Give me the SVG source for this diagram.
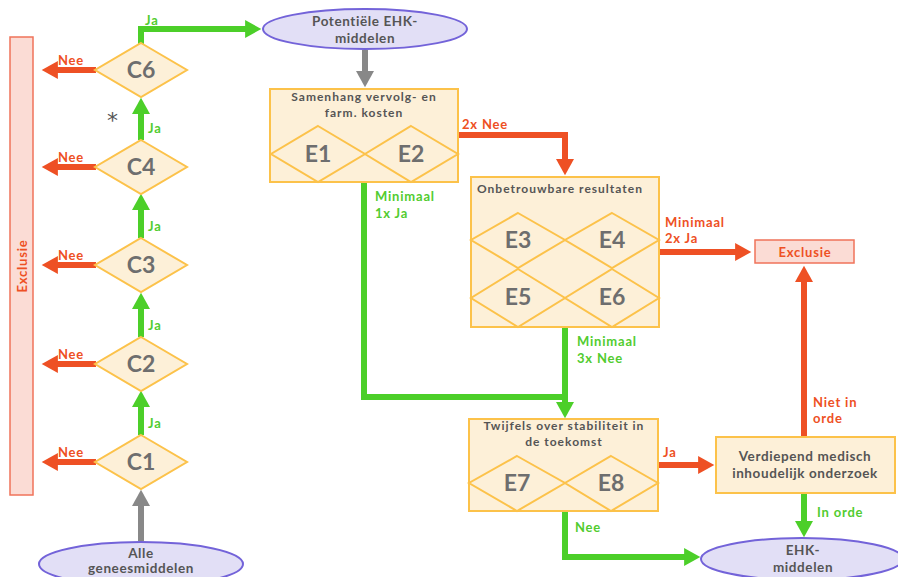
<svg xmlns="http://www.w3.org/2000/svg" width="898" height="577" viewBox="0 0 898 577">
<defs>
<style>
.dia{fill:#fdf0d8;stroke:#fcc24a;stroke-width:2}
.box{fill:#fdf0d8;stroke:#fcc24a;stroke-width:2}
.ell{fill:#e2dff6;stroke:#7363d9;stroke-width:2}
.exc{fill:#fbdcd5;stroke:#f0735a;stroke-width:1.5}
.ct{font-family:"Lato","Liberation Sans",sans-serif;font-weight:bold;font-size:23px;fill:#6e6e6e;text-anchor:middle}
.t{font-family:"Lato","Liberation Sans",sans-serif;font-weight:bold;font-size:12px;fill:#555;letter-spacing:1px}
.tm{text-anchor:middle}
.big{font-size:13.5px;letter-spacing:0.6px}
.lr{font-family:"Lato","Liberation Sans",sans-serif;font-weight:bold;font-size:13px;fill:#ee5024;letter-spacing:0.8px}
.lg{font-family:"Lato","Liberation Sans",sans-serif;font-weight:bold;font-size:13px;fill:#52cc30;letter-spacing:0.8px}
.r{fill:none;stroke:#ee5024;stroke-width:6}
.g{fill:none;stroke:#4ccf29;stroke-width:6}
.k{fill:none;stroke:#888;stroke-width:6}
</style>
<marker id="ar" viewBox="0 0 10 10" refX="0.5" refY="5" markerWidth="3" markerHeight="3" orient="auto" markerUnits="strokeWidth"><path d="M0,0L9,5L0,10z" fill="#ee5024"/></marker>
<marker id="ag" viewBox="0 0 10 10" refX="0.5" refY="5" markerWidth="3" markerHeight="3" orient="auto" markerUnits="strokeWidth"><path d="M0,0L9,5L0,10z" fill="#4ccf29"/></marker>
<marker id="ak" viewBox="0 0 10 10" refX="0.5" refY="5" markerWidth="3" markerHeight="3" orient="auto" markerUnits="strokeWidth"><path d="M0,0L9,5L0,10z" fill="#888"/></marker>
</defs>
<rect width="898" height="577" fill="#fff"/>

<g id="connectors">
<path class="r" d="M96,70H57" marker-end="url(#ar)"/>
<path class="r" d="M96,167H57" marker-end="url(#ar)"/>
<path class="r" d="M96,265H57" marker-end="url(#ar)"/>
<path class="r" d="M96,364H57" marker-end="url(#ar)"/>
<path class="r" d="M96,462H57" marker-end="url(#ar)"/>
<path class="g" d="M141,435V406" marker-end="url(#ag)"/>
<path class="g" d="M141,337V308" marker-end="url(#ag)"/>
<path class="g" d="M141,238V209" marker-end="url(#ag)"/>
<path class="g" d="M141,140V113" marker-end="url(#ag)"/>
<path class="g" d="M141,44V29H246" marker-end="url(#ag)"/>
<path class="k" d="M141,541V505" marker-end="url(#ak)"/>
<path class="k" d="M365,50V72" marker-end="url(#ak)"/>
<path class="r" d="M458,135H565V160" marker-end="url(#ar)"/>
<path class="g" d="M364,182V397H565"/>
<path class="g" d="M565,327V403" marker-end="url(#ag)"/>
<path class="r" d="M659,252H736" marker-end="url(#ar)"/>
<path class="r" d="M658,465H699" marker-end="url(#ar)"/>
<path class="r" d="M804,437V281" marker-end="url(#ar)"/>
<path class="g" d="M804,493V522" marker-end="url(#ag)"/>
<path class="g" d="M565,511V557H685" marker-end="url(#ag)"/>
</g>

<g id="labels">
<text class="lr" x="58" y="65">Nee</text>
<text class="lr" x="58" y="162">Nee</text>
<text class="lr" x="58" y="260">Nee</text>
<text class="lr" x="58" y="359">Nee</text>
<text class="lr" x="58" y="457">Nee</text>
<text class="lg" x="148" y="428">Ja</text>
<text class="lg" x="148" y="330">Ja</text>
<text class="lg" x="148" y="231">Ja</text>
<text class="lg" x="148" y="133">Ja</text>
<text class="lg" x="145" y="25">Ja</text>
<text x="107" y="128" font-family="'DejaVu Sans',sans-serif" font-size="22" fill="#555">*</text>
<text class="lr" x="462" y="129">2x Nee</text>
<text class="lg" x="375" y="201">Minimaal</text>
<text class="lg" x="375" y="218">1x Ja</text>
<text class="lr" x="665" y="227">Minimaal</text>
<text class="lr" x="665" y="243">2x Ja</text>
<text class="lg" x="577" y="346">Minimaal</text>
<text class="lg" x="577" y="363">3x Nee</text>
<text class="lr" x="663" y="457">Ja</text>
<text class="lg" x="575" y="532">Nee</text>
<text class="lr" x="813" y="407">Niet in</text>
<text class="lr" x="813" y="423">orde</text>
<text class="lg" x="817" y="517">In orde</text>
</g>

<g id="exclusie-left">
<rect class="exc" x="10" y="37" width="23" height="458"/>
<text class="lr" transform="translate(27,266) rotate(-90)" text-anchor="middle">Exclusie</text>
</g>

<g id="C6"><polygon class="dia" points="141,43 187,70 141,97 95,70"/><text class="ct" x="141" y="78">C6</text></g>
<g id="C4"><polygon class="dia" points="141,140 187,167 141,194 95,167"/><text class="ct" x="141" y="175">C4</text></g>
<g id="C3"><polygon class="dia" points="141,238 187,265 141,292 95,265"/><text class="ct" x="141" y="273">C3</text></g>
<g id="C2"><polygon class="dia" points="141,337 187,364 141,391 95,364"/><text class="ct" x="141" y="372">C2</text></g>
<g id="C1"><polygon class="dia" points="141,435 187,462 141,489 95,462"/><text class="ct" x="141" y="470">C1</text></g>

<g id="alle">
<ellipse class="ell" cx="141" cy="564" rx="102" ry="22"/>
<text class="t tm big" x="141" y="558">Alle</text>
<text class="t tm big" x="141" y="573">geneesmiddelen</text>
</g>

<g id="potentieel">
<ellipse class="ell" cx="365" cy="29" rx="102" ry="20"/>
<text class="t tm big" x="365" y="26">Potentiële EHK-</text>
<text class="t tm big" x="365" y="43">middelen</text>
</g>

<g id="samenhang">
<rect class="box" x="270" y="89" width="188" height="93"/>
<polygon class="dia" points="318,126 365,154 318,182 271,154"/>
<polygon class="dia" points="411,126 458,154 411,182 365,154"/>
<text class="t tm" x="364" y="101">Samenhang vervolg- en</text>
<text class="t tm" x="364" y="117">farm. kosten</text>
<text class="ct" x="318" y="162">E1</text>
<text class="ct" x="411" y="162">E2</text>
</g>

<g id="onbetrouwbaar">
<rect class="box" x="471" y="177" width="188" height="150"/>
<polygon class="dia" points="518,213 565,240 518,268 471,240"/>
<polygon class="dia" points="612,213 659,240 612,268 565,240"/>
<polygon class="dia" points="518,269 565,298 518,327 471,298"/>
<polygon class="dia" points="612,269 659,298 612,327 565,298"/>
<text class="t" x="477" y="193" font-size="11.5">Onbetrouwbare  resultaten</text>
<text class="ct" x="518" y="248">E3</text>
<text class="ct" x="612" y="248">E4</text>
<text class="ct" x="518" y="305">E5</text>
<text class="ct" x="612" y="305">E6</text>
</g>

<g id="twijfels">
<rect class="box" x="469" y="419" width="189" height="92"/>
<polygon class="dia" points="517,456 565,483 517,511 469,483"/>
<polygon class="dia" points="611,456 658,483 611,511 565,483"/>
<text class="t tm" x="564" y="430">Twijfels over stabiliteit in</text>
<text class="t tm" x="564" y="446">de toekomst</text>
<text class="ct" x="517" y="491">E7</text>
<text class="ct" x="611" y="491">E8</text>
</g>

<g id="exclusie-right">
<rect class="exc" x="755" y="240" width="99" height="23"/>
<text class="lr" x="805" y="257" text-anchor="middle">Exclusie</text>
</g>

<g id="verdiepend">
<rect class="box" x="716" y="437" width="179" height="56"/>
<text class="t tm big" x="805" y="461">Verdiepend medisch</text>
<text class="t tm big" x="805" y="478">inhoudelijk onderzoek</text>
</g>

<g id="ehk">
<ellipse class="ell" cx="802" cy="559" rx="101" ry="21"/>
<text class="t tm big" x="803" y="555">EHK-</text>
<text class="t tm big" x="803" y="572">middelen</text>
</g>
</svg>
